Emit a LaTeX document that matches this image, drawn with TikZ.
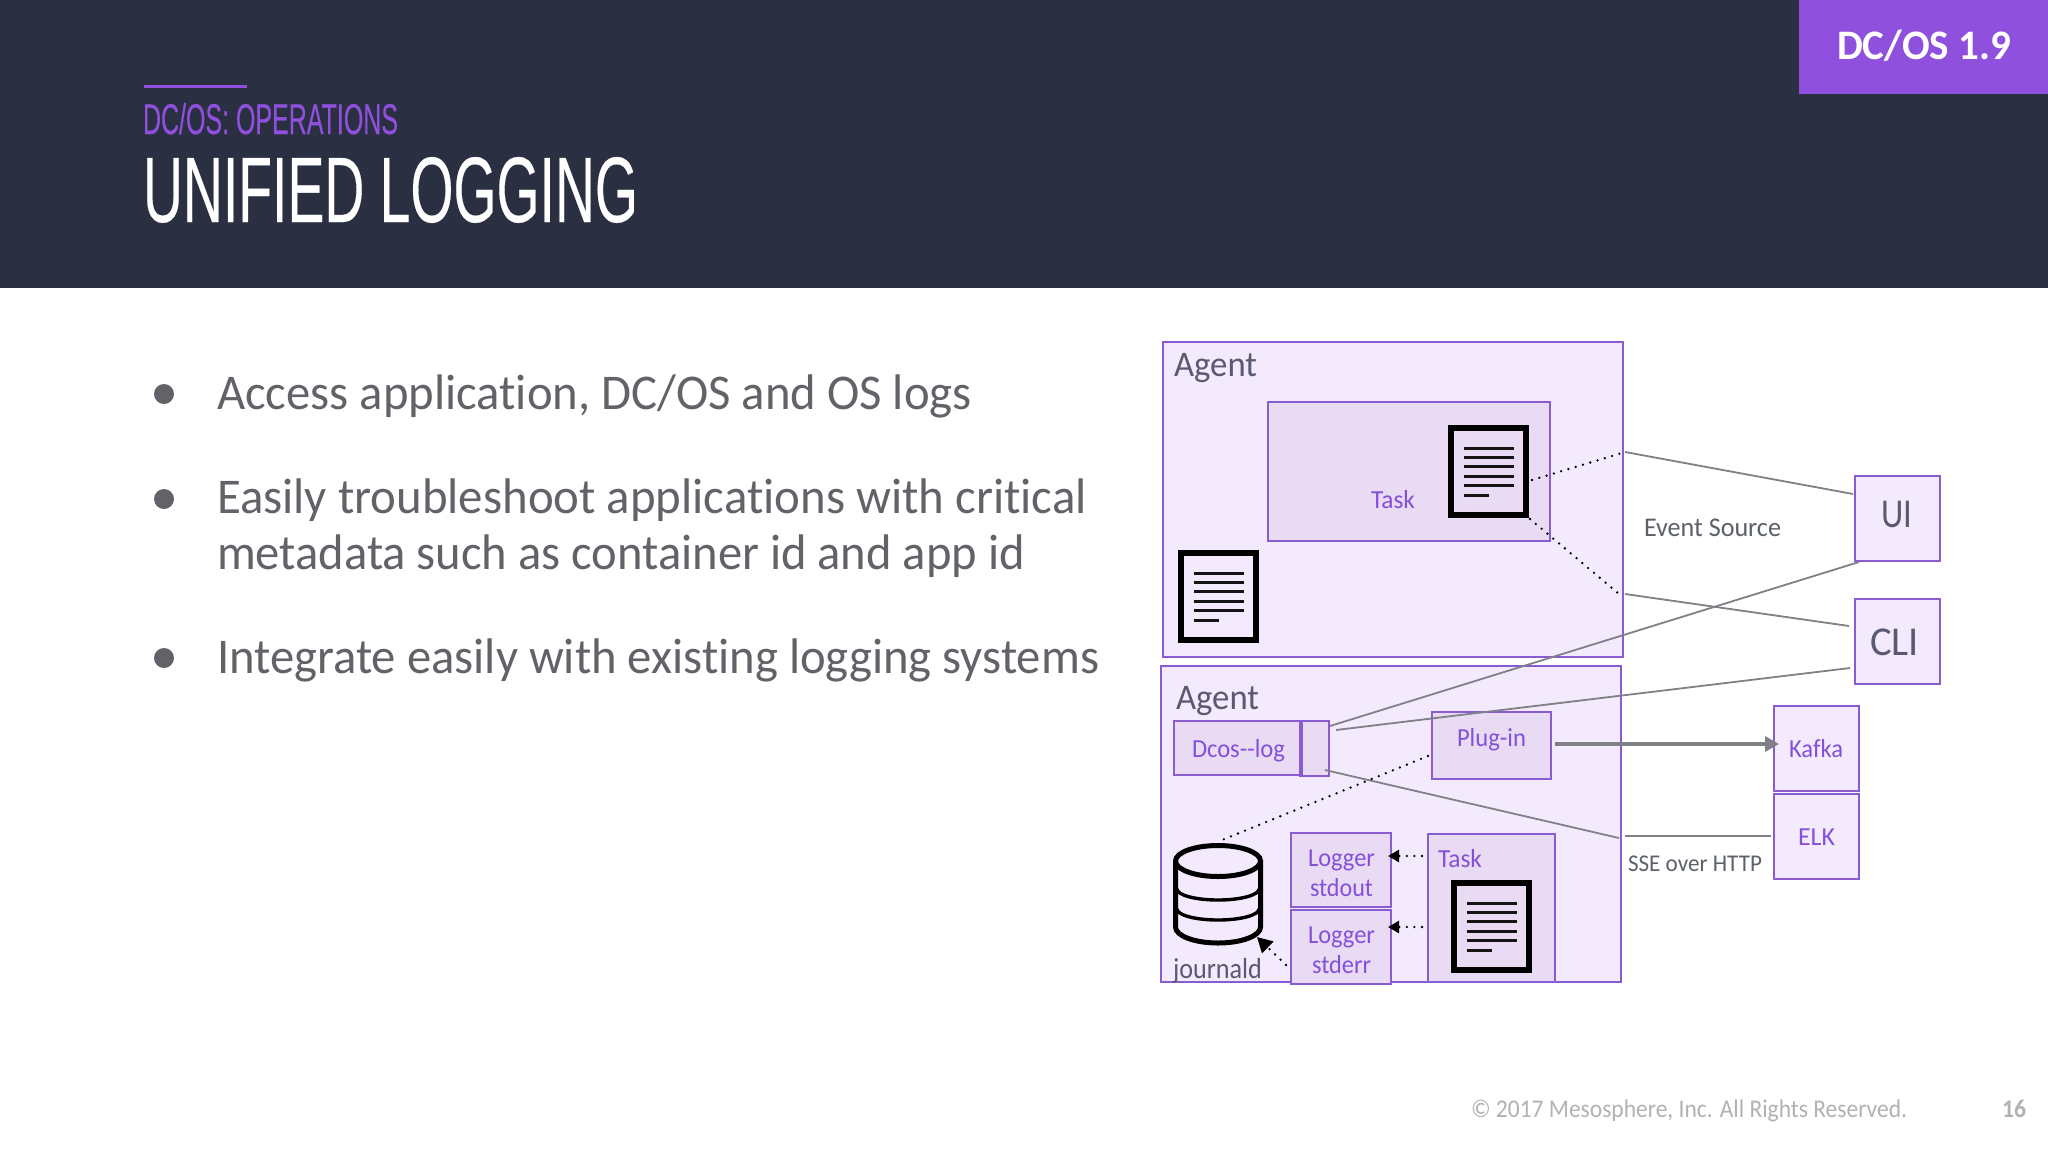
\documentclass[tikz,border=0pt]{standalone}
\usepackage{graphicx}
\usepackage{fontspec}
\setmainfont{Carlito}[Ligatures={NoCommon,NoRequired,NoContextual}]
\newfontfamily\headfont{Liberation Sans}[FakeBold=0.35]
\usetikzlibrary{arrows.meta}
\definecolor{hdr}{HTML}{2A2F41}
\definecolor{vio}{HTML}{8F50DE}
\definecolor{edge}{HTML}{8A5CD2}
\definecolor{agentfill}{HTML}{F3EBFD}
\definecolor{innerfill}{HTML}{E8DBF3}
\definecolor{violabel}{HTML}{8450DA}
\definecolor{darklabel}{HTML}{5B5872}
\definecolor{greylabel}{HTML}{5C6068}
\definecolor{body}{HTML}{636268}
\definecolor{wire}{HTML}{808087}
\definecolor{foot}{HTML}{B2B2B6}
\newcommand\fitw[3]{{\fontsize{#1}{#1}\selectfont\resizebox{#2pt}{\height}{#3}}}
\newcommand\fith[3]{{\headfont\fontsize{#1}{#1}\selectfont\resizebox{#2pt}{\height}{#3}}}
\tikzset{
  x=1pt,y=-1pt,
  lab/.style={anchor=base west,inner sep=0pt,outer sep=0pt},
  bullet/.style={circle,fill=body,minimum size=20pt,inner sep=0pt},
  region/.style={draw=edge,line width=1.6pt,fill=agentfill,anchor=north west,inner sep=0pt,outer sep=0pt},
  innerbox/.style={region,fill=innerfill},
  wireline/.style={draw=wire,line width=1.8pt},
  dots/.style={draw=black,line width=2.6pt,line cap=round,dash pattern=on 0pt off 7.6pt},
  dotarrow/.style={dots,-{Triangle[length=11pt,width=12pt,fill=black]}},
  bigdotarrow/.style={dots,-{Triangle[length=15pt,width=16pt,fill=black]}},
  thickarrow/.style={draw=wire,line width=4pt,-{Triangle[length=14pt,width=15pt,fill=wire]}},
  docicon/.pic={
    \draw[line width=6pt,black,miter limit=10] (3,3) rectangle (78,90);
    \foreach \yy in {23,32.4,41.8,51.2,60.6}{\draw[line width=3pt,black!92] (15.7,\yy) -- (65.7,\yy);}
    \draw[line width=3pt,black!92] (15.7,70) -- (40.7,70);
  }
}
\begin{document}
\begin{tikzpicture}
\useasboundingbox (0,0) rectangle (2048,1152);
\fill[white] (0,0) rectangle (2048,1152);
\node[anchor=north west,fill=hdr,minimum width=2048pt,minimum height=288pt,inner sep=0pt,outer sep=0pt] (header) at (0,0) {};
\node[anchor=north west,fill=vio,minimum width=249pt,minimum height=94pt,inner sep=0pt,outer sep=0pt] (badge) at (1799,0) {};
\node[lab,text=white] (badgetext) at (1837,59) {\fitw{42}{174}{\bfseries DC/OS 1.9}};
\fill[vio] (144,84.5) rectangle (247,87.5);
\node[lab,text=vio] (section) at (143,134) {\fith{43}{255}{DC/OS: OPERATIONS}};
\node[lab,text=white] (title) at (143,222) {\fith{93}{495}{UNIFIED LOGGING}};

% bullets
\node[bullet] (b1) at (164,394) {};
\node[bullet] (b2) at (164,499) {};
\node[bullet] (b3) at (164,658) {};
\node[lab,text=body] (t1) at (217,409) {\fitw{50}{755}{Access application, DC/OS and OS logs}};
\node[lab,text=body] (t2) at (217,513) {\fitw{50}{870}{Easily troubleshoot applications with critical}};
\node[lab,text=body] (t2b) at (217,569) {\fitw{50}{808}{metadata such as container id and app id}};
\node[lab,text=body] (t3) at (217,673) {\fitw{50}{882}{Integrate easily with existing logging systems}};

% footer
\node[lab,text=foot] (copy) at (1471,1117) {\fitw{25.5}{436}{© 2017 Mesosphere, Inc. All Rights Reserved.}};
\node[lab,text=foot] (pageno) at (2002,1117) {\fitw{25.5}{24}{\bfseries 16}};

% regions
\node[region,minimum width=460pt,minimum height=315pt] (agentA) at (1163,342) {};
\node[region,minimum width=460pt,minimum height=316pt] (agentB) at (1161,666) {};
\node[innerbox,minimum width=282pt,minimum height=139pt] (taskA) at (1268,402) {};
\node[innerbox,minimum width=128pt,minimum height=54pt] (dcos) at (1174,721) {};
\node[innerbox,minimum width=29pt,minimum height=55pt] (port) at (1300,721) {};
\draw[draw=edge,line width=1.6pt] (dcos.north east) -- (dcos.south east);
\node[innerbox,minimum width=119pt,minimum height=67pt] (plugin) at (1432,712) {};
\node[innerbox,minimum width=100pt,minimum height=74pt] (logout) at (1291,833) {};
\node[innerbox,minimum width=100pt,minimum height=74pt] (logerr) at (1291,910) {};
\node[innerbox,minimum width=127pt,minimum height=148pt] (taskB) at (1428,834) {};
\node[region,minimum width=85pt,minimum height=85pt] (ui) at (1855,476) {};
\node[region,minimum width=85pt,minimum height=85pt] (cli) at (1855,599) {};
\node[region,minimum width=85pt,minimum height=85pt] (kafka) at (1774,706) {};
\node[region,minimum width=85pt,minimum height=85pt] (elk) at (1774,794) {};

% document icons
\pic (docA) at (1448,425) {docicon};
\pic (docB) at (1178,550) {docicon};
\pic (docC) at (1451,880) {docicon};

% journald cylinder
\begin{scope}[line width=5pt,black]
  \draw (1218,861) ellipse [x radius=42.5pt,y radius=15.5pt];
  \draw (1175.5,861) -- (1175.5,927) arc[start angle=180,end angle=360,x radius=42.5pt,y radius=16pt] -- (1260.5,861);
\end{scope}
\draw[line width=3.4pt,black] (1177,889) arc[start angle=180,end angle=360,x radius=41pt,y radius=11pt];
\draw[line width=3.4pt,black] (1177,909) arc[start angle=180,end angle=360,x radius=41pt,y radius=11pt];

% labels
\node[lab,text=darklabel] (agentAl) at (1174,376) {\fitw{36}{83}{Agent}};
\node[lab,text=darklabel] (agentBl) at (1176,709) {\fitw{36}{83}{Agent}};
\node[lab,text=violabel] (taskAl) at (1371,508) {\fitw{26}{44}{Task}};
\node[lab,text=violabel] (dcosl) at (1192,757) {\fitw{26}{93}{Dcos-{}-log}};
\node[lab,text=violabel] (pluginl) at (1457,746) {\fitw{26}{69}{Plug-in}};
\node[lab,text=violabel] (logoutA) at (1308,866) {\fitw{26}{67}{Logger}};
\node[lab,text=violabel] (logoutB) at (1310,896) {\fitw{26}{63}{stdout}};
\node[lab,text=violabel] (logerrA) at (1308,943) {\fitw{26}{67}{Logger}};
\node[lab,text=violabel] (logerrB) at (1312,973) {\fitw{26}{59}{stderr}};
\node[lab,text=violabel] (taskBl) at (1438,867) {\fitw{26}{44}{Task}};
\node[lab,text=darklabel] (journald) at (1173,978) {\fitw{29}{89}{journald}};
\node[lab,text=darklabel] (uil) at (1881,527) {\fitw{41}{31}{UI}};
\node[lab,text=darklabel] (clil) at (1870,655) {\fitw{41}{49}{CLI}};
\node[lab,text=violabel] (kafkal) at (1789,757) {\fitw{26}{54}{Kafka}};
\node[lab,text=violabel] (elkl) at (1798,845) {\fitw{26}{37}{ELK}};
\node[lab,text=greylabel] (evsrc) at (1644,536) {\fitw{27}{137}{Event Source}};
\node[lab,text=greylabel] (sse) at (1628,871) {\fitw{24}{134}{SSE over HTTP}};

% connector ends
\coordinate (a1) at (1625,452);  \coordinate (a2) at (1853,494);
\coordinate (b1e) at (1625,594); \coordinate (b2e) at (1849,626);
\coordinate (c1) at (1330,726);  \coordinate (c2) at (1859,562);
\coordinate (d1) at (1336,730);  \coordinate (d2) at (1850,668);
\coordinate (e1) at (1325,770);  \coordinate (e2) at (1619,838);
\coordinate (f1) at (1625,836);  \coordinate (f2) at (1771,836);
\coordinate (g1) at (1532,480);  \coordinate (g2) at (1622,453);
\coordinate (h1) at (1530,519);  \coordinate (h2) at (1619,594);
\coordinate (i1) at (1428,756);  \coordinate (i2) at (1222,840);
\coordinate (j1) at (1422,856);  \coordinate (j2) at (1388,856);
\coordinate (k1) at (1422,927);  \coordinate (k2) at (1388,927);
\coordinate (l1) at (1286,965);  \coordinate (l2) at (1257,937);
\coordinate (m1) at (1555,744);  \coordinate (m2) at (1779,744);

\draw[wireline] (a1) -- (a2);
\draw[wireline] (b1e) -- (b2e);
\draw[wireline] (c1) -- (c2);
\draw[wireline] (d1) -- (d2);
\draw[wireline] (e1) -- (e2);
\draw[wireline] (f1) -- (f2);
\draw[thickarrow] (m1) -- (m2);
\draw[dots] (g1) -- (g2);
\draw[dots] (h1) -- (h2);
\draw[dots] (i1) -- (i2);
\draw[dotarrow] (j1) -- (j2);
\draw[dotarrow] (k1) -- (k2);
\draw[bigdotarrow] (l1) -- (l2);
\end{tikzpicture}
\end{document}
